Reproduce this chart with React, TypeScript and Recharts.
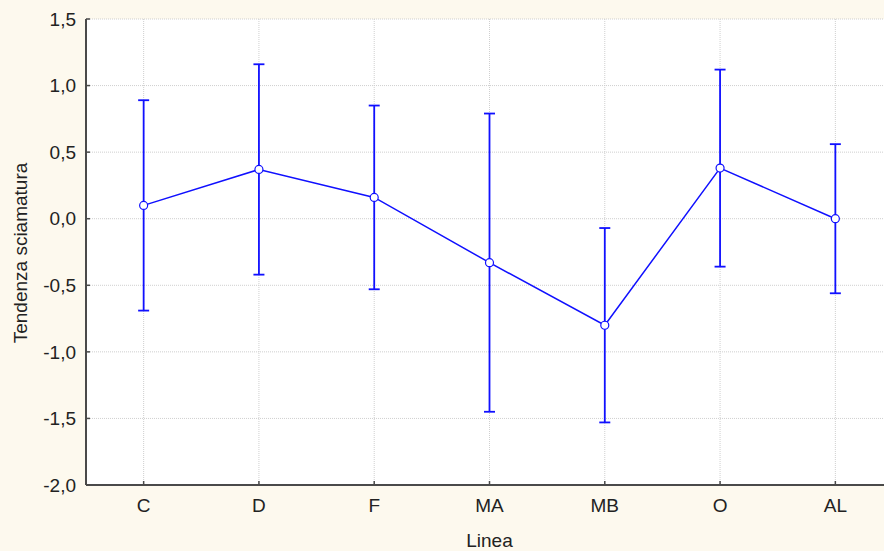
import { ComposedChart, Line, XAxis, YAxis, CartesianGrid, ErrorBar, Label } from 'recharts'

const categories = ['C', 'D', 'F', 'MA', 'MB', 'O', 'AL']
const means = [0.1, 0.37, 0.16, -0.33, -0.8, 0.38, 0.0]
const errors = [0.79, 0.79, 0.69, 1.12, 0.73, 0.74, 0.56]
const yTicks = [-2, -1.5, -1, -0.5, 0, 0.5, 1, 1.5]

const data = categories.map((linea, i) => ({ linea, mean: means[i], err: errors[i] }))

const BLUE = '#1010ff'
const AXIS = '#4a4a4a'
const FONT = '"Liberation Sans", Arial, sans-serif'
const FS = 19
const PLOT_LEFT = 86
const PLOT_TOP = 19
const PLOT_BOTTOM = 485

const fmt = (v: number) => v.toFixed(1).replace('.', ',')

const YTick = ({ x, y, payload }: any) => (
  <g>
    <line x1={PLOT_LEFT} x2={PLOT_LEFT + 4} y1={y} y2={y} stroke={AXIS} strokeWidth={1.5} />
    <text x={x} y={y} dy="0.35em" textAnchor="end" fill="#222" fontSize={FS} fontFamily={FONT}>
      {fmt(payload.value)}
    </text>
  </g>
)

const XTick = ({ x, y, payload }: any) => (
  <g>
    <line x1={x} x2={x} y1={PLOT_BOTTOM} y2={PLOT_BOTTOM - 4} stroke={AXIS} strokeWidth={1.5} />
    <text x={x} y={y} dy="0.71em" textAnchor="middle" fill="#222" fontSize={FS} fontFamily={FONT}>
      {payload.value}
    </text>
  </g>
)

const TopTick = ({ x }: any) => (
  <line x1={x} x2={x} y1={PLOT_TOP} y2={PLOT_TOP + 4} stroke={AXIS} strokeWidth={1.5} />
)

const YLabel = ({ viewBox }: any) => {
  const cx = 20
  const cy = viewBox.y + viewBox.height / 2 + 1
  return (
    <text
      x={cx}
      y={cy}
      transform={`rotate(-90, ${cx}, ${cy})`}
      textAnchor="middle"
      dominantBaseline="central"
      fill="#222"
      fontSize={FS}
      fontFamily={FONT}
    >
      Tendenza sciamatura
    </text>
  )
}

export default function App() {
  return (
    <div
      style={{
        position: 'absolute',
        left: 0,
        top: 0,
        width: 884,
        height: 551,
        overflow: 'hidden',
        background: '#fdf9ee',
      }}
    >
      <ComposedChart width={893} height={551} data={data} margin={{ top: PLOT_TOP, right: 0, bottom: 0, left: 0 }}>
        <CartesianGrid fill="#ffffff" stroke="#cfcfcf" strokeDasharray="1 1" />
        <XAxis
          xAxisId="top"
          orientation="top"
          dataKey="linea"
          scale="band"
          height={0}
          axisLine={{ stroke: AXIS, strokeWidth: 2 }}
          tickLine={false}
          tickSize={0}
          tick={TopTick}
        />
        <XAxis
          dataKey="linea"
          scale="band"
          height={66}
          axisLine={{ stroke: AXIS, strokeWidth: 2 }}
          tickLine={false}
          tickSize={0}
          tickMargin={14}
          tick={XTick}
        >
          <Label value="Linea" position="insideBottom" offset={4} fill="#222" fontSize={FS} fontFamily={FONT} />
        </XAxis>
        <YAxis
          width={PLOT_LEFT}
          domain={[-2, 1.5]}
          ticks={yTicks}
          allowDataOverflow
          axisLine={{ stroke: AXIS, strokeWidth: 2 }}
          tickLine={false}
          tickSize={0}
          tickMargin={10}
          tick={YTick}
        >
          <Label content={YLabel} />
        </YAxis>
        <Line
          dataKey="mean"
          stroke={BLUE}
          strokeWidth={1.5}
          dot={{ r: 4, fill: '#ffffff', stroke: BLUE, strokeWidth: 1.2 }}
          isAnimationActive={false}
        >
          <ErrorBar dataKey="err" width={5.5} stroke={BLUE} strokeWidth={1.8} direction="y" isAnimationActive={false} />
        </Line>
      </ComposedChart>
    </div>
  )
}
